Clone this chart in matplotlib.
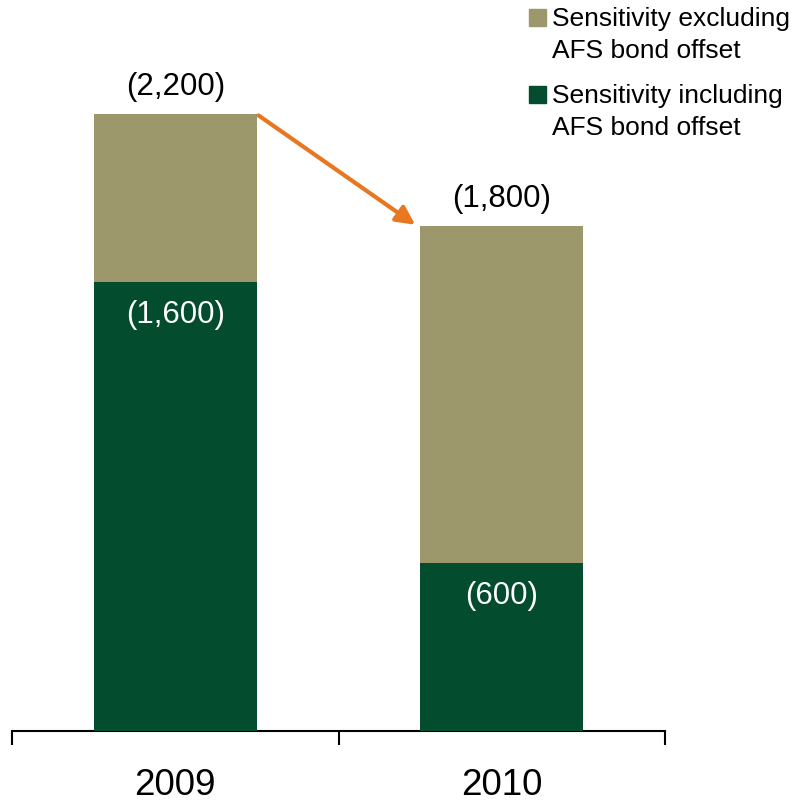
import matplotlib
matplotlib.use("Agg")
import matplotlib.pyplot as plt
from matplotlib.patches import Rectangle

plt.rcParams['font.family'] = ['Liberation Sans', 'DejaVu Sans']

years = ["2009", "2010"]
excluding_offset = [2200, 1800]
including_offset = [1600, 600]
legend_labels = ["Sensitivity excluding\nAFS bond offset",
                 "Sensitivity including\nAFS bond offset"]

c_excl = "#9C986C"
c_incl = "#034D2E"
c_arrow = "#E87722"

W, H = 792, 804
fig = plt.figure(figsize=(W / 100, H / 100), dpi=100)
ax = fig.add_axes([12 / W, 72 / H, (665 - 12) / W, (H - 72) / H])

x = list(range(len(years)))
ax.bar(x, excluding_offset, width=0.5, color=c_excl, zorder=2)
ax.bar(x, including_offset, width=0.5, color=c_incl, zorder=3)

ax.set_xlim(-0.5, len(years) - 0.5)
ax.set_ylim(0, 732 * 2200 / 617)

for s in ("top", "right", "left"):
    ax.spines[s].set_visible(False)
ax.spines["bottom"].set_linewidth(1.5)
ax.set_yticks([])

ax.set_xticks([i - 0.5 for i in range(len(years) + 1)])
ax.set_xticklabels([])
ax.tick_params(axis="x", which="major", length=10, width=1.5, direction="out")
ax.set_xticks(x, minor=True)
ax.set_xticklabels(years, minor=True, fontsize=26.5)
ax.tick_params(axis="x", which="minor", length=0, pad=26)


def fmt(v):
    return f"({v:,})"


for xi, v in zip(x, excluding_offset):
    ax.annotate(fmt(v), (xi, v), xytext=(0, 20), textcoords="offset points",
                ha="center", va="center", fontsize=22.5, color="black")
for xi, v in zip(x, including_offset):
    ax.annotate(fmt(v), (xi, v), xytext=(0, -23), textcoords="offset points",
                ha="center", va="center", fontsize=22.5, color="white", zorder=5)

# Change arrow between the two totals
ax.annotate("", xy=(0.735, excluding_offset[1] + 5), xytext=(0.255, excluding_offset[0] - 5),
            arrowprops=dict(arrowstyle="-|>", color=c_arrow, lw=3,
                            mutation_scale=28, shrinkA=0, shrinkB=0))

# Legend with the square aligned to the first line of each label
colors = [c_excl, c_incl]
tops = [10, 87]
for lab, col, top in zip(legend_labels, colors, tops):
    fig.patches.append(Rectangle((529 / W, 1 - (top + 17) / H), 17 / W, 17 / H,
                                 transform=fig.transFigure, color=col))
    fig.text(552 / W, 1 - (top - 3) / H, lab, ha="left", va="top",
             fontsize=19, linespacing=1.42)

fig.savefig("out.png", dpi=100)
